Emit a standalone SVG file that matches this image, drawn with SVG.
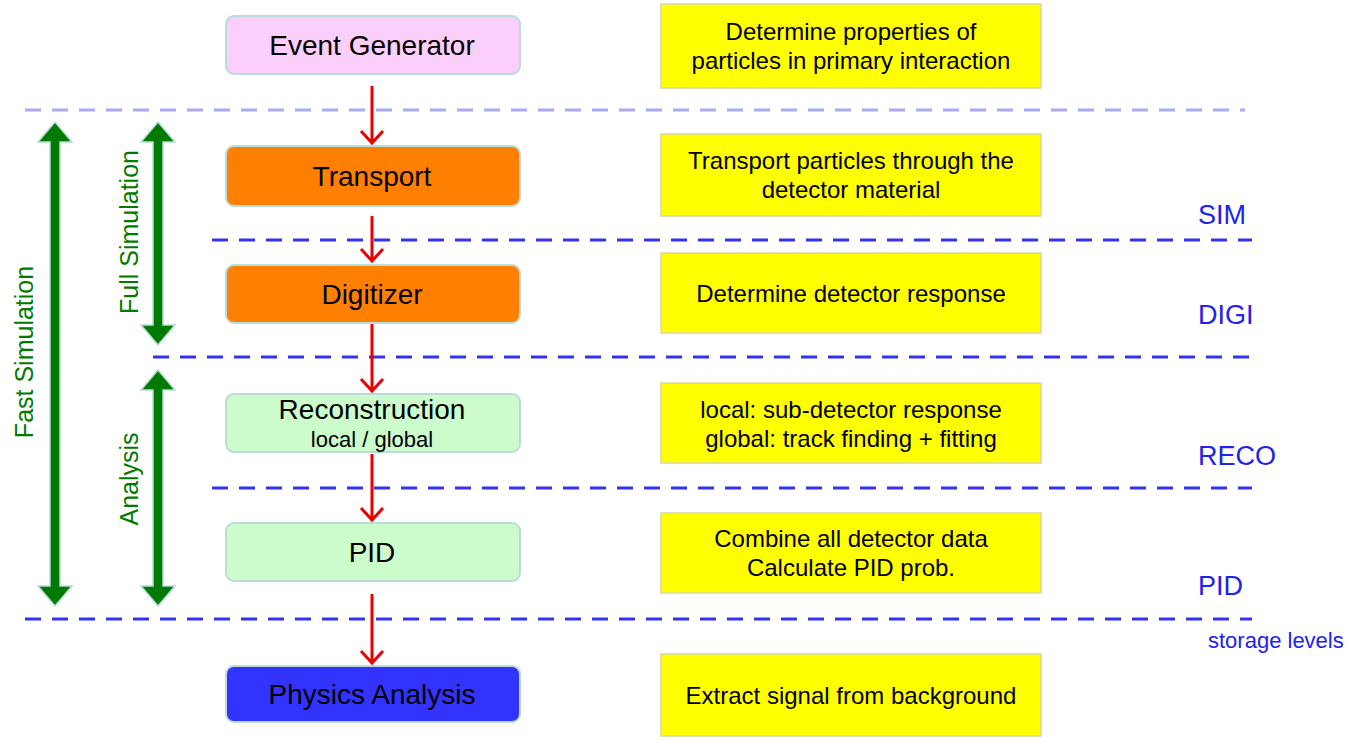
<svg xmlns="http://www.w3.org/2000/svg" width="1366" height="747" viewBox="0 0 1366 747">
<style>
text{font-family:"Liberation Sans",Arial,sans-serif;}
.n{stroke:#b8dcdc;stroke-width:2;}
.y{fill:#ffff00;stroke:#d8d8a0;stroke-width:1.5;}
.t{font-size:28px;text-anchor:middle;fill:#000;}
.d{font-size:24px;text-anchor:middle;fill:#000;}
.s{font-size:22px;text-anchor:middle;fill:#000;}
.b{font-size:27px;fill:#2222ee;}
.g{font-size:25px;fill:#007a00;text-anchor:middle;}
.dash{stroke:#3333ee;stroke-width:3;stroke-dasharray:16,11;}
.red{stroke:#ee0000;stroke-width:3;fill:none;}
.ga{fill:#007a00;stroke:#b8dcdc;stroke-width:1.5;}
</style>
<rect width="1366" height="747" fill="#fff"/>
<g id="levels">
<line x1="25" y1="110" x2="1245" y2="110" class="dash" style="stroke:#aaaaf0"/>
<line x1="212" y1="240" x2="1252" y2="240" class="dash"/>
<line x1="153" y1="357" x2="1252" y2="357" class="dash"/>
<line x1="212" y1="488" x2="1252" y2="488" class="dash"/>
<line x1="25" y1="619" x2="1252" y2="619" class="dash"/>
<text x="1198" y="224" class="b">SIM</text>
<text x="1198" y="324" class="b">DIGI</text>
<text x="1198" y="465" class="b">RECO</text>
<text x="1198" y="595" class="b">PID</text>
<text x="1208" y="648" style="font-size:22px;fill:#2222ee">storage levels</text>
</g>
<g id="connectors">
<path class="red" d="M372 86V143M361 131L372 143L383 131"/>
<path class="red" d="M372 216V261M361 249L372 261L383 249"/>
<path class="red" d="M372 324V391M361 379L372 391L383 379"/>
<path class="red" d="M372 454V520M361 508L372 520L383 508"/>
<path class="red" d="M372 594V663M361 651L372 663L383 651"/>
</g>
<g id="ranges">
<path class="ga" d="M55 122L72 142H60V586H72L55 606L38 586H50V142H38Z"/>
<path class="ga" d="M158 122L175 142H163V325H175L158 345L141 325H153V142H141Z"/>
<path class="ga" d="M158 370L175 390H163V586H175L158 606L141 586H153V390H141Z"/>
<text class="g" transform="translate(33 352) rotate(-90)">Fast Simulation</text>
<text class="g" transform="translate(138 232) rotate(-90)">Full Simulation</text>
<text class="g" transform="translate(138 479) rotate(-90)">Analysis</text>
</g>
<g id="event-generator"><rect x="226" y="16" width="294" height="58" rx="8" class="n" fill="#fccefc"/><text x="372" y="55" class="t">Event Generator</text></g>
<g id="transport"><rect x="226" y="146" width="294" height="60" rx="8" class="n" fill="#ff8000"/><text x="372" y="186" class="t">Transport</text></g>
<g id="digitizer"><rect x="226" y="265" width="294" height="58" rx="8" class="n" fill="#ff8000"/><text x="372" y="304" class="t">Digitizer</text></g>
<g id="reconstruction"><rect x="226" y="394" width="294" height="58" rx="8" class="n" fill="#ccfccc"/><text x="372" y="419" class="t">Reconstruction</text><text x="372" y="447" class="s">local / global</text></g>
<g id="pid"><rect x="226" y="523" width="294" height="58" rx="8" class="n" fill="#ccfccc"/><text x="372" y="562" class="t">PID</text></g>
<g id="physics-analysis"><rect x="226" y="666" width="294" height="56" rx="8" class="n" fill="#3333ff"/><text x="372" y="704" class="t">Physics Analysis</text></g>
<g id="desc-event"><rect x="661" y="4" width="380" height="84" class="y"/><text x="851" y="40" class="d">Determine properties of</text><text x="851" y="69" class="d">particles in primary interaction</text></g>
<g id="desc-transport"><rect x="661" y="134" width="380" height="82" class="y"/><text x="851" y="169" class="d">Transport particles through the</text><text x="851" y="198" class="d">detector material</text></g>
<g id="desc-digi"><rect x="661" y="253" width="380" height="80" class="y"/><text x="851" y="302" class="d">Determine detector response</text></g>
<g id="desc-reco"><rect x="661" y="383" width="380" height="80" class="y"/><text x="851" y="418" class="d">local: sub-detector response</text><text x="851" y="447" class="d">global: track finding + fitting</text></g>
<g id="desc-pid"><rect x="661" y="513" width="380" height="80" class="y"/><text x="851" y="547" class="d">Combine all detector data</text><text x="851" y="576" class="d">Calculate PID prob.</text></g>
<g id="desc-physics"><rect x="661" y="654" width="380" height="82" class="y"/><text x="851" y="704" class="d">Extract signal from background</text></g>
</svg>
